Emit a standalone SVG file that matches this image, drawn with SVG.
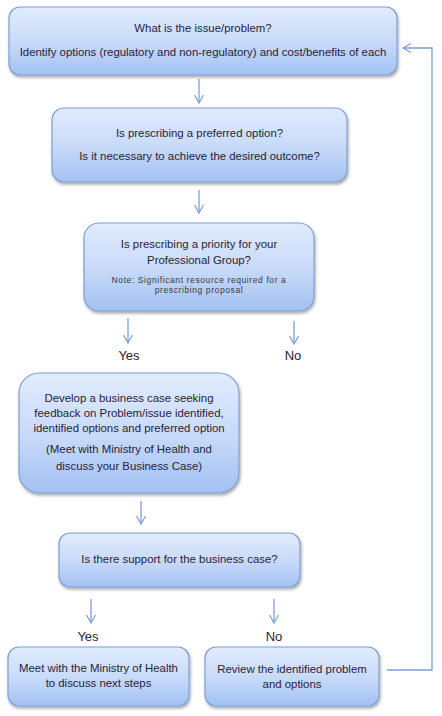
<svg xmlns="http://www.w3.org/2000/svg" width="442" height="716" viewBox="0 0 442 716">
<defs>
<linearGradient id="g" x1="0" y1="0" x2="0" y2="1">
<stop offset="0" stop-color="#e1ebfc"/>
<stop offset="0.5" stop-color="#c9dbf9"/>
<stop offset="1" stop-color="#a3c1f3"/>
</linearGradient>
<filter id="sh" x="-10%" y="-10%" width="120%" height="130%">
<feDropShadow dx="1" dy="2" stdDeviation="1.5" flood-color="#000" flood-opacity="0.35"/>
</filter>
<marker id="ah" markerWidth="12" markerHeight="12" refX="9" refY="5" orient="auto" markerUnits="userSpaceOnUse">
<path d="M1,0.5 L9,5 L1,9.5" fill="none" stroke="#7a9fd3" stroke-width="1.2"/>
</marker>
</defs>
<style>
.box{fill:url(#g);stroke:#7f9fd2;stroke-width:1.2;filter:url(#sh)}
text{font-family:"Liberation Sans",Arial,sans-serif;fill:#2a2238;text-anchor:middle}
.t{font-size:11.4px}
.n{font-size:8.5px;letter-spacing:0.6px;fill:#3a3a44}
.l{font-size:13px}
.c{stroke:#7a9fd3;stroke-width:1.3;fill:none;marker-end:url(#ah)}
</style>
<rect width="442" height="716" fill="#fff"/>
<g id="n1"><rect class="box" x="9" y="7" width="388" height="68" rx="11"/>
<text class="t" x="203" y="32">What is the issue/problem?</text>
<text class="t" x="203" y="56">Identify options (regulatory and non-regulatory) and cost/benefits of each</text></g>
<g id="n2"><rect class="box" x="52" y="108" width="295" height="74" rx="12"/>
<text class="t" x="199.5" y="137">Is prescribing a preferred option?</text>
<text class="t" x="199.5" y="160">Is it necessary to achieve the desired outcome?</text></g>
<g id="n3"><rect class="box" x="84" y="223" width="230" height="88" rx="15"/>
<text class="t" x="199" y="248">Is prescribing a priority for your</text>
<text class="t" x="199" y="264">Professional Group?</text>
<text class="n" x="199" y="283">Note: Significant resource required for a</text>
<text class="n" x="199" y="293">prescribing proposal</text></g>
<g id="n4"><rect class="box" x="19" y="373" width="220" height="120" rx="20"/>
<text class="t" x="129" y="402">Develop a business case seeking</text>
<text class="t" x="129" y="417">feedback on Problem/issue identified,</text>
<text class="t" x="129" y="432">identified options and preferred option</text>
<text class="t" x="129" y="453">(Meet with Ministry of Health and</text>
<text class="t" x="129" y="470">discuss your Business Case)</text></g>
<g id="n5"><rect class="box" x="59" y="533" width="241" height="54" rx="11"/>
<text class="t" x="179.5" y="563">Is there support for the business case?</text></g>
<g id="n6"><rect class="box" x="8" y="647" width="181" height="59" rx="11"/>
<text class="t" x="98.5" y="672">Meet with the Ministry of Health</text>
<text class="t" x="98.5" y="687">to discuss next steps</text></g>
<g id="n7"><rect class="box" x="205" y="647" width="174" height="59" rx="11"/>
<text class="t" x="292" y="673">Review the identified problem</text>
<text class="t" x="292" y="688">and options</text></g>
<g id="labels">
<text class="l" x="129" y="360">Yes</text>
<text class="l" x="293" y="360">No</text>
<text class="l" x="88" y="641">Yes</text>
<text class="l" x="274" y="641">No</text>
</g>
<g id="connectors">
<path class="c" d="M199,79 V103"/>
<path class="c" d="M199,190 V213"/>
<path class="c" d="M128,318 V343"/>
<path class="c" d="M294,321 V344"/>
<path class="c" d="M141,501 V524"/>
<path class="c" d="M91,599 V623"/>
<path class="c" d="M274,599 V623"/>
<path class="c" d="M387,670 H432 V48 H403"/>
</g>
</svg>
